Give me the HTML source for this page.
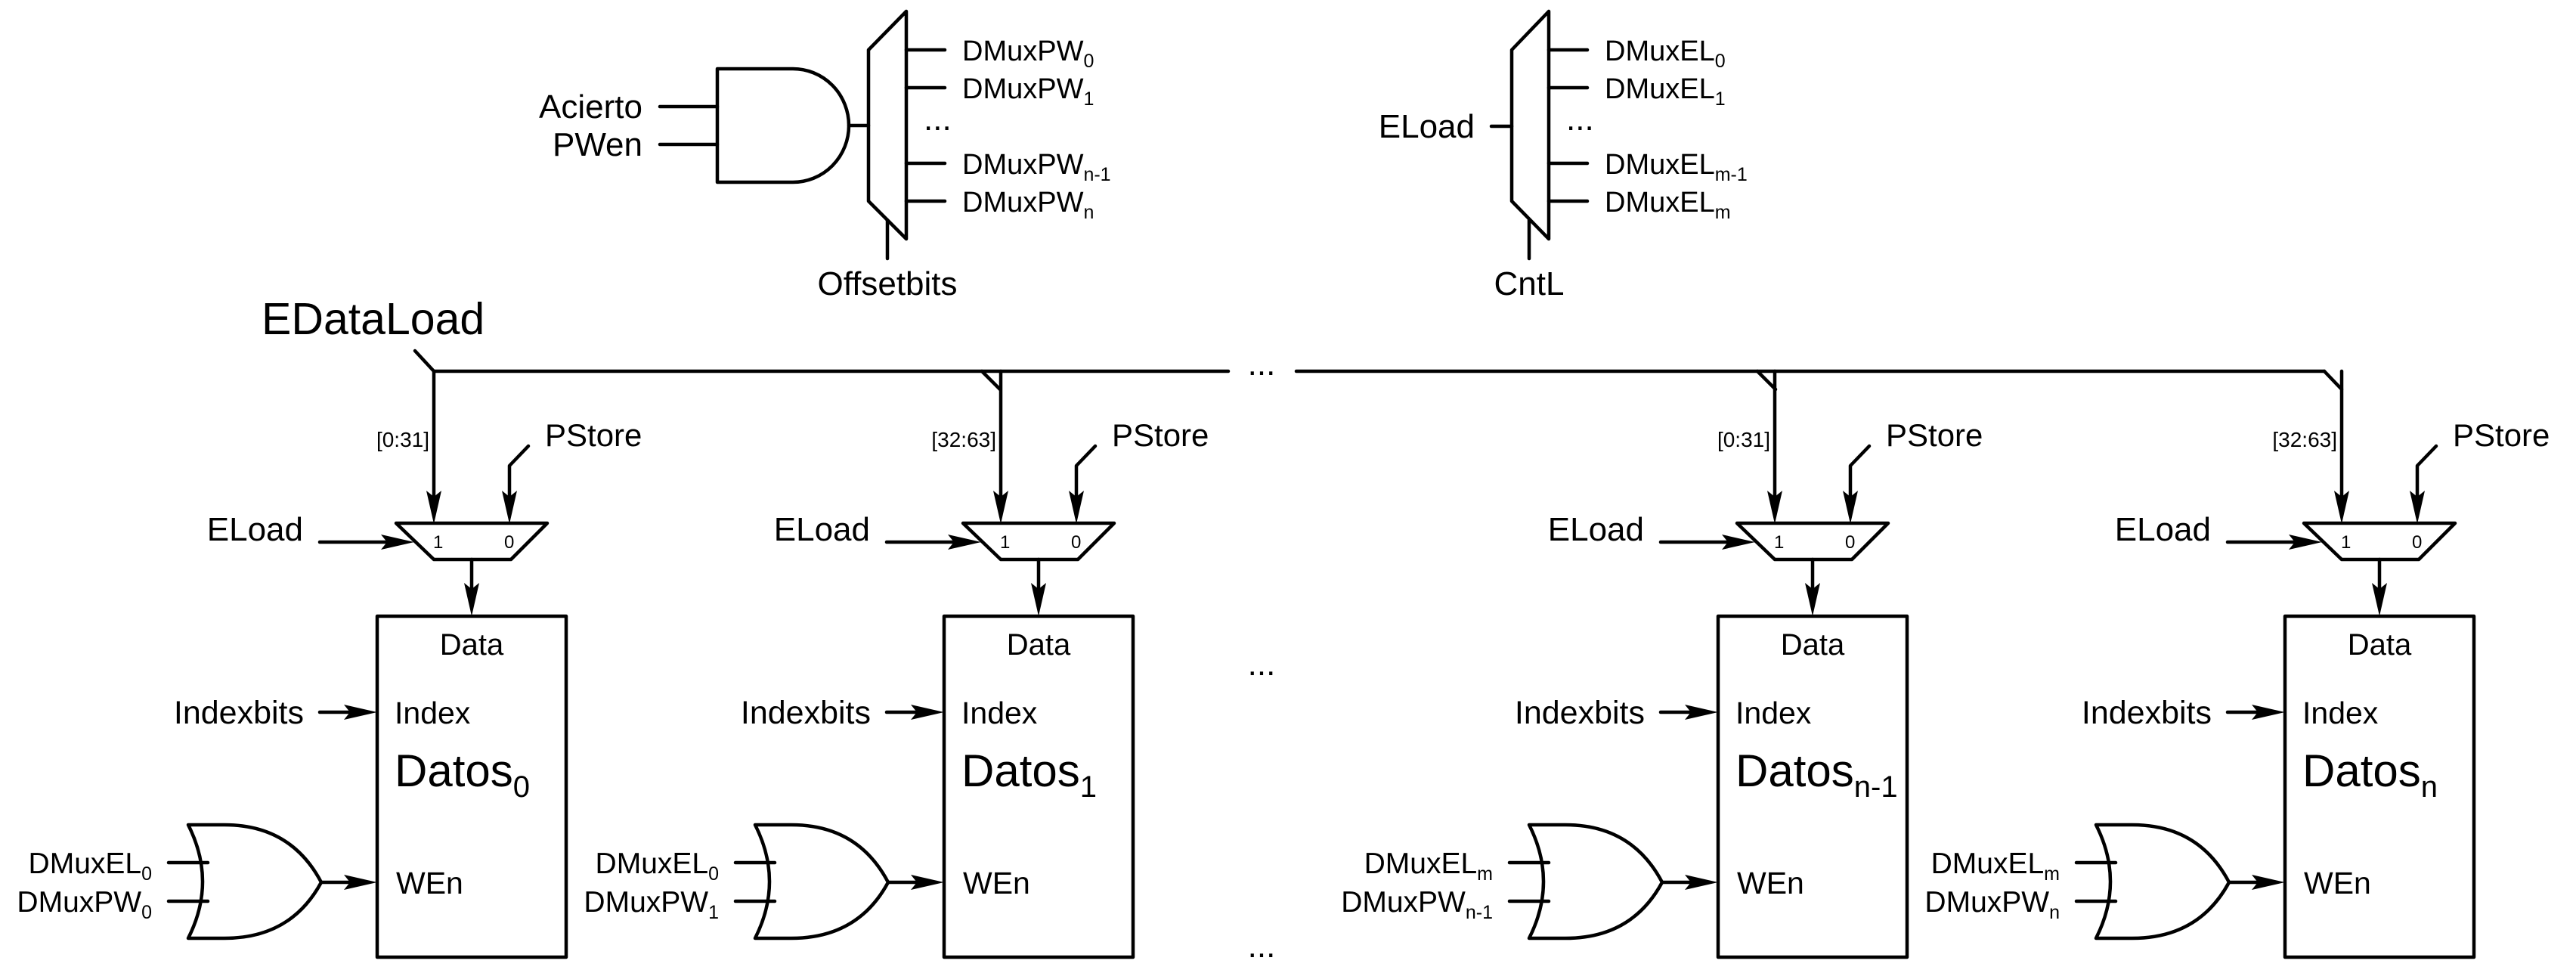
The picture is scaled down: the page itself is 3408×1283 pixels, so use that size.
<!DOCTYPE html>
<html><head><meta charset="utf-8"><style>
html,body{margin:0;padding:0;background:#fff;}
svg{display:block;}
text{font-family:"Liberation Sans",Arial,sans-serif;fill:#000;}
</style></head><body>
<svg width="3408" height="1283" viewBox="0 0 3408 1283" xmlns="http://www.w3.org/2000/svg">
<defs>
<g id="ahd"><polygon points="0,0 -10,-44 0,-36 10,-44" fill="#000"/></g>
<g id="ahr"><polygon points="0,0 -44,-10 -36,0 -44,10" fill="#000"/></g>
</defs>
<g stroke="#000" stroke-width="4.5" fill="none" stroke-linecap="round" stroke-linejoin="round">
<line x1="873" y1="141" x2="949" y2="141"/>
<line x1="873" y1="191" x2="949" y2="191"/>
<path d="M949,91 L1049,91 A74,75 0 0 1 1049,241 L949,241 Z"/>
<line x1="1123" y1="166" x2="1149" y2="166"/>
<path d="M1149,66 L1199,15 L1199,316 L1149,266 Z"/>
<line x1="1174" y1="291" x2="1174" y2="342"/>
<line x1="1199" y1="66" x2="1250" y2="66"/>
<line x1="1199" y1="116" x2="1250" y2="116"/>
<line x1="1199" y1="216" x2="1250" y2="216"/>
<line x1="1199" y1="266" x2="1250" y2="266"/>
<path d="M2000,66 L2049,15 L2049,316 L2000,266 Z"/>
<line x1="2023" y1="291" x2="2023" y2="342"/>
<line x1="1973" y1="167" x2="2000" y2="167"/>
<line x1="2049" y1="66" x2="2100" y2="66"/>
<line x1="2049" y1="116" x2="2100" y2="116"/>
<line x1="2049" y1="216" x2="2100" y2="216"/>
<line x1="2049" y1="266" x2="2100" y2="266"/>
<polyline points="549,464 574,491 1625,491"/>
<line x1="1715" y1="491" x2="3075" y2="491"/>
<polyline points="3075,491 3098,515"/>
<polyline points="1299,491 1323,515"/>
<polyline points="2325,491 2349,515"/>
</g>
<text x="850" y="156" font-size="44" text-anchor="end">Acierto</text>
<text x="850" y="206" font-size="44" text-anchor="end">PWen</text>
<g font-size="38">
<text x="1273" y="80">DMuxPW<tspan font-size="25" dy="9">0</tspan></text>
<text x="1273" y="130">DMuxPW<tspan font-size="25" dy="9">1</tspan></text>
<text x="1273" y="230">DMuxPW<tspan font-size="25" dy="9">n-1</tspan></text>
<text x="1273" y="280">DMuxPW<tspan font-size="25" dy="9">n</tspan></text>
<text x="2123" y="80">DMuxEL<tspan font-size="25" dy="9">0</tspan></text>
<text x="2123" y="130">DMuxEL<tspan font-size="25" dy="9">1</tspan></text>
<text x="2123" y="230">DMuxEL<tspan font-size="25" dy="9">m-1</tspan></text>
<text x="2123" y="280">DMuxEL<tspan font-size="25" dy="9">m</tspan></text>
</g>
<text x="1222" y="172" font-size="44">...</text>
<text x="2072" y="172" font-size="44">...</text>
<text x="1174" y="390" font-size="44" text-anchor="middle">Offsetbits</text>
<text x="2023" y="390" font-size="44" text-anchor="middle">CntL</text>
<text x="1951" y="182" font-size="44" text-anchor="end">ELoad</text>
<text x="346" y="442" font-size="59">EDataLoad</text>
<text x="1669" y="496" font-size="44" text-anchor="middle">...</text>
<text x="1669" y="893" font-size="44" text-anchor="middle">...</text>
<text x="1669" y="1266" font-size="44" text-anchor="middle">...</text>

<g id="col">
<g stroke="#000" stroke-width="4.5" fill="none" stroke-linecap="round" stroke-linejoin="round">
<line x1="574" y1="491" x2="574" y2="660"/>
<polyline points="699,590 674,616 674,660"/>
<line x1="423" y1="717" x2="520" y2="717"/>
<path d="M524,692 L724,692 L676,740 L574,740 Z"/>
<line x1="624" y1="740" x2="624" y2="785"/>
<rect x="499" y="815" width="250" height="451"/>
<line x1="423" y1="942" x2="465" y2="942"/>
<line x1="223" y1="1141" x2="275" y2="1141"/>
<line x1="223" y1="1192" x2="275" y2="1192"/>
<path d="M249,1091 Q287,1166 249,1241 L297,1241 Q385,1241 425,1167 Q385,1091 297,1091 Z"/>
<line x1="425" y1="1167" x2="465" y2="1167"/>
</g>
<use href="#ahd" x="574" y="693"/>
<use href="#ahd" x="674" y="693"/>
<use href="#ahr" x="548" y="717"/>
<use href="#ahd" x="624" y="815"/>
<use href="#ahr" x="499" y="942"/>
<use href="#ahr" x="499" y="1167"/>
<text x="573" y="725" font-size="24">1</text>
<text x="667" y="725" font-size="24">0</text>
<text x="721" y="590" font-size="42">PStore</text>
<text x="401" y="715" font-size="44" text-anchor="end">ELoad</text>
<text x="624" y="866" font-size="40" text-anchor="middle">Data</text>
<text x="402" y="957" font-size="43" text-anchor="end">Indexbits</text>
<text x="522" y="957" font-size="41">Index</text>
<text x="524" y="1182" font-size="41">WEn</text>
</g>
<use href="#col" x="750" y="0"/>
<use href="#col" x="1774" y="0"/>
<use href="#col" x="2524" y="0"/>
<g font-size="28">
<text x="568" y="591" text-anchor="end">[0:31]</text>
<text x="1318" y="591" text-anchor="end">[32:63]</text>
<text x="2342" y="591" text-anchor="end">[0:31]</text>
<text x="3092" y="591" text-anchor="end">[32:63]</text>
</g>
<g font-size="60">
<text x="522" y="1040">Datos<tspan font-size="40" dy="14">0</tspan></text>
<text x="1272" y="1040">Datos<tspan font-size="40" dy="14">1</tspan></text>
<text x="2296" y="1040">Datos<tspan font-size="40" dy="14">n-1</tspan></text>
<text x="3046" y="1040">Datos<tspan font-size="40" dy="14">n</tspan></text>
</g>
<g font-size="39" text-anchor="end">
<text x="201" y="1155">DMuxEL<tspan font-size="25" dy="9">0</tspan></text>
<text x="201" y="1206">DMuxPW<tspan font-size="25" dy="9">0</tspan></text>
<text x="951" y="1155">DMuxEL<tspan font-size="25" dy="9">0</tspan></text>
<text x="951" y="1206">DMuxPW<tspan font-size="25" dy="9">1</tspan></text>
<text x="1975" y="1155">DMuxEL<tspan font-size="25" dy="9">m</tspan></text>
<text x="1975" y="1206">DMuxPW<tspan font-size="25" dy="9">n-1</tspan></text>
<text x="2725" y="1155">DMuxEL<tspan font-size="25" dy="9">m</tspan></text>
<text x="2725" y="1206">DMuxPW<tspan font-size="25" dy="9">n</tspan></text>
</g>
</svg>
</body></html>
